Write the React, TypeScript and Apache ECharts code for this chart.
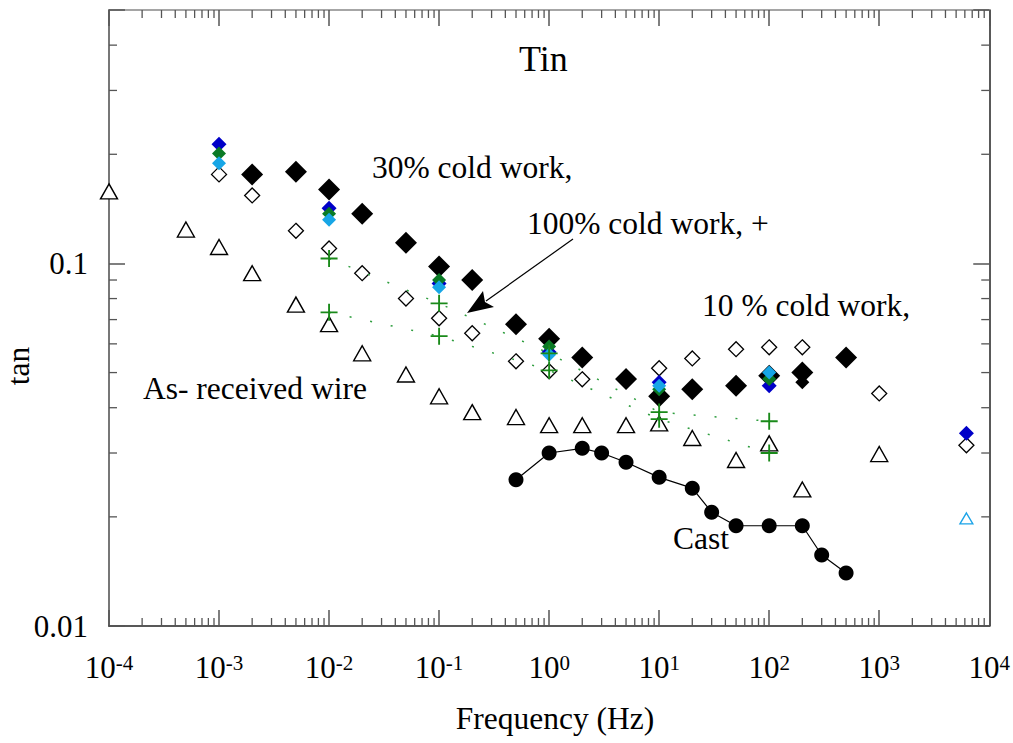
import React, { useEffect, useRef } from "react";
import * as echarts from "echarts";

const FONT = '"Liberation Serif", "Times New Roman", serif';

// Axis ranges
const X_MIN = 1e-4;
const X_MAX = 1e4;
const Y_MIN = 0.01;
const Y_MAX = 0.5;

// Minor tick positions
const MINOR_MULT = [2, 3, 4, 5, 6, 7, 8, 9];
const X_DECADES = [1e-4, 1e-3, 1e-2, 1e-1, 1, 10, 100, 1000];
const Y_MINOR = [0.02, 0.03, 0.04, 0.05, 0.06, 0.07, 0.08, 0.09, 0.2, 0.3, 0.4];

// 30% cold work (large filled black diamonds)
const blackFreq = [0.002, 0.005, 0.01, 0.02, 0.05, 0.1, 0.2, 0.5, 1, 2, 5, 10, 20, 50, 100, 200, 500];
const blackVal = [0.176, 0.179, 0.16, 0.137, 0.114, 0.098, 0.09, 0.068, 0.062, 0.055, 0.048, 0.043, 0.045, 0.046, 0.049, 0.05, 0.055];
const blackSmallFreq = [200];
const blackSmallVal = [0.047];

// coloured diamonds
const blueFreq = [0.001, 0.01, 0.1, 1, 10, 100, 6200];
const blueVal = [0.213, 0.142, 0.088, 0.057, 0.047, 0.046, 0.034];
const greenFreq = [0.001, 0.01, 0.1, 1, 10, 100];
const greenVal = [0.201, 0.137, 0.09, 0.059, 0.045, 0.048];
const cyanFreq = [0.001, 0.01, 0.1, 1, 10, 100];
const cyanVal = [0.189, 0.132, 0.086, 0.056, 0.046, 0.05];
const cyanTriFreq = [6200];
const cyanTriVal = [0.0198];

// 10 % cold work (open diamonds)
const openFreq = [0.001, 0.002, 0.005, 0.01, 0.02, 0.05, 0.1, 0.2, 0.5, 1, 2, 10, 20, 50, 100, 200, 1000, 6200];
const openVal = [0.176, 0.154, 0.123, 0.11, 0.094, 0.08, 0.0706, 0.0642, 0.0537, 0.0504, 0.0479, 0.0514, 0.0547, 0.058, 0.0587, 0.0587, 0.0438, 0.0315];

// As-received wire (open triangles)
const triFreq = [1e-4, 5e-4, 1e-3, 2e-3, 5e-3, 1e-2, 2e-2, 5e-2, 0.1, 0.2, 0.5, 1, 2, 5, 10, 20, 50, 100, 200, 1000];
const triVal = [0.158, 0.124, 0.111, 0.094, 0.077, 0.068, 0.0565, 0.0494, 0.043, 0.0389, 0.0377, 0.0358, 0.0358, 0.0358, 0.0362, 0.033, 0.0287, 0.0319, 0.0238, 0.0298];

// 100% cold work (+), two runs
const plusAFreq = [0.01, 0.1, 1, 10, 100];
const plusAVal = [0.1032, 0.0776, 0.0565, 0.0389, 0.0367];
const plusBFreq = [0.01, 0.1, 1, 10, 100];
const plusBVal = [0.0733, 0.063, 0.0507, 0.0372, 0.03];

// Cast
const castFreq = [0.5, 1, 2, 3, 5, 10, 20, 30, 50, 100, 200, 300, 500];
const castVal = [0.0253, 0.03, 0.0309, 0.03, 0.0283, 0.0257, 0.024, 0.0206, 0.0189, 0.0189, 0.0189, 0.0157, 0.014];

const pairs = (f: number[], v: number[]) => f.map((x, i) => [x, v[i]]);

const PLUS = "path://M0,4.45 H10 V5.55 H0 Z M4.45,0 H5.55 V10 H4.45 Z";

const isDecade = (v: number) => {
  const l = Math.log10(v);
  return Math.abs(l - Math.round(l)) < 1e-6;
};

export default function App() {
  const ref = useRef<HTMLDivElement>(null);

  useEffect(() => {
    document.body.style.margin = "0";
    if (!ref.current) return;
    const chart = echarts.init(ref.current, undefined, { renderer: "svg" });

    const xMinor: number[][] = [];
    X_DECADES.forEach((d) => MINOR_MULT.forEach((m) => xMinor.push([d * m, Y_MIN])));
    const yMinor = Y_MINOR.map((v) => [X_MIN, v]);

    const tickStyle = { stroke: "#555", lineWidth: 1.3 };

    const baseX = {
      type: "log" as const,
      min: X_MIN,
      max: X_MAX,
      logBase: 10,
      splitLine: { show: false },
      axisTick: { inside: true, length: 16, lineStyle: { color: "#555", width: 1.5 } },
    };
    const baseY = {
      type: "log" as const,
      min: Y_MIN,
      max: Y_MAX,
      logBase: 10,
      splitLine: { show: false },
      axisTick: { inside: true, length: 16, lineStyle: { color: "#555", width: 1.5 } },
    };

    const scatter = (name: string, data: number[][], symbol: string, size: any, itemStyle: any) => ({
      name,
      type: "scatter",
      clip: false,
      symbol,
      symbolSize: size,
      itemStyle: { opacity: 1, ...itemStyle },
      emphasis: { disabled: true },
      data,
    });

    const txt = (text: string, x: number, y: number, size = 31.5, align = "left", rotation = 0) => ({
      type: "text",
      x,
      y,
      rotation,
      style: { text, fontSize: size, fontFamily: FONT, fill: "#000", align, verticalAlign: "middle" },
    });

    const option: any = {
      animation: false,
      backgroundColor: "#fff",
      grid: { left: 109, top: 10, width: 882, height: 616, containLabel: false },
      xAxis: [
        {
          ...baseX,
          position: "bottom",
          axisLine: { show: true, lineStyle: { color: "#222", width: 1.5 } },
          axisLabel: {
            margin: 26,
            formatter: (v: number) => (isDecade(v) ? `{b|10}{s|${Math.round(Math.log10(v))}}` : ""),
            rich: {
              b: { fontSize: 31, fontFamily: FONT, color: "#000", lineHeight: 30 },
              s: { fontSize: 21, fontFamily: FONT, color: "#000", lineHeight: 16, verticalAlign: "top" },
            },
          },
        },
        {
          ...baseX,
          position: "top",
          axisLine: { show: true, lineStyle: { color: "#888", width: 1.5 } },
          axisLabel: { show: false },
        },
      ],
      yAxis: [
        {
          ...baseY,
          position: "left",
          axisLine: { show: true, lineStyle: { color: "#777", width: 2 } },
          axisLabel: {
            margin: 21,
            fontSize: 31,
            fontFamily: FONT,
            color: "#000",
            formatter: (v: number) => (isDecade(v) ? String(Number(v.toPrecision(6))) : ""),
          },
        },
        {
          ...baseY,
          position: "right",
          axisLine: { show: true, lineStyle: { color: "#222", width: 1.5 } },
          axisLabel: { show: false },
        },
      ],
      series: [
        {
          type: "custom",
          silent: true,
          data: xMinor,
          renderItem: (_p: any, api: any) => {
            const v = api.value(0);
            const b = api.coord([v, Y_MIN]);
            const t = api.coord([v, Y_MAX]);
            return {
              type: "group",
              children: [
                { type: "line", shape: { x1: b[0], y1: b[1], x2: b[0], y2: b[1] - 8 }, style: tickStyle },
                { type: "line", shape: { x1: t[0], y1: t[1], x2: t[0], y2: t[1] + 8 }, style: tickStyle },
              ],
            };
          },
        },
        {
          type: "custom",
          silent: true,
          data: yMinor,
          renderItem: (_p: any, api: any) => {
            const v = api.value(1);
            const l = api.coord([X_MIN, v]);
            const r = api.coord([X_MAX, v]);
            return {
              type: "group",
              children: [
                { type: "line", shape: { x1: l[0], y1: l[1], x2: l[0] + 8, y2: l[1] }, style: tickStyle },
                { type: "line", shape: { x1: r[0], y1: r[1], x2: r[0] - 8, y2: r[1] }, style: tickStyle },
              ],
            };
          },
        },
        scatter("As-received wire", pairs(triFreq, triVal), "triangle", [17, 15], { color: "#fff", borderColor: "#000", borderWidth: 1.4 }),
        scatter("Cyan triangle", pairs(cyanTriFreq, cyanTriVal), "triangle", [13, 11], { color: "#fff", borderColor: "#1aa3e8", borderWidth: 1.3 }),
        scatter("10 % cold work", pairs(openFreq, openVal), "diamond", 15, { color: "#fff", borderColor: "#000", borderWidth: 1.3 }),
        {
          name: "100% cold work A",
          type: "line",
          clip: false,
          symbol: PLUS,
          symbolSize: 17,
          itemStyle: { color: "#1a8a1a", opacity: 1 },
          lineStyle: { color: "#2f9e3f", width: 1.5, type: [2, 19] },
          emphasis: { disabled: true },
          data: pairs(plusAFreq, plusAVal),
        },
        {
          name: "100% cold work B",
          type: "line",
          clip: false,
          symbol: PLUS,
          symbolSize: 17,
          itemStyle: { color: "#1a8a1a", opacity: 1 },
          lineStyle: { color: "#2f9e3f", width: 1.5, type: [2, 19] },
          emphasis: { disabled: true },
          data: pairs(plusBFreq, plusBVal),
        },
        scatter("30% cold work", pairs(blackFreq, blackVal), "diamond", 22, { color: "#000" }),
        scatter("30% cold work (b)", pairs(blackSmallFreq, blackSmallVal), "diamond", 14, { color: "#000" }),
        scatter("Blue", pairs(blueFreq, blueVal), "diamond", 15, { color: "#0000c8" }),
        scatter("Green", pairs(greenFreq, greenVal), "diamond", 14, { color: "#0a7a25" }),
        scatter("Cyan", pairs(cyanFreq, cyanVal), "diamond", 14, { color: "#17a6e6" }),
        {
          name: "Cast",
          type: "line",
          clip: false,
          symbol: "circle",
          symbolSize: 15,
          itemStyle: { color: "#000", opacity: 1 },
          lineStyle: { color: "#000", width: 1.2 },
          emphasis: { disabled: true },
          data: pairs(castFreq, castVal),
        },
      ],
      graphic: [
        txt("Tin", 519, 59, 36),
        txt("30% cold work,", 372, 167),
        txt("100% cold work, +", 527, 223),
        txt("10 % cold work,", 702, 305),
        txt("As- received wire", 143, 388),
        txt("Cast", 673, 538),
        txt("Frequency (Hz)", 555, 718, 31.5, "center"),
        txt("tan", 18, 366, 31.5, "center", Math.PI / 2),
        { type: "line", shape: { x1: 573, y1: 239, x2: 486, y2: 301 }, style: { stroke: "#000", lineWidth: 1.2 } },
        { type: "polygon", shape: { points: [[467, 313], [494, 307], [485, 302], [483, 291]] }, style: { fill: "#000" } },
      ],
    };

    chart.setOption(option);
    return () => chart.dispose();
  }, []);

  return <div ref={ref} style={{ width: 1013, height: 743 }} />;
}
